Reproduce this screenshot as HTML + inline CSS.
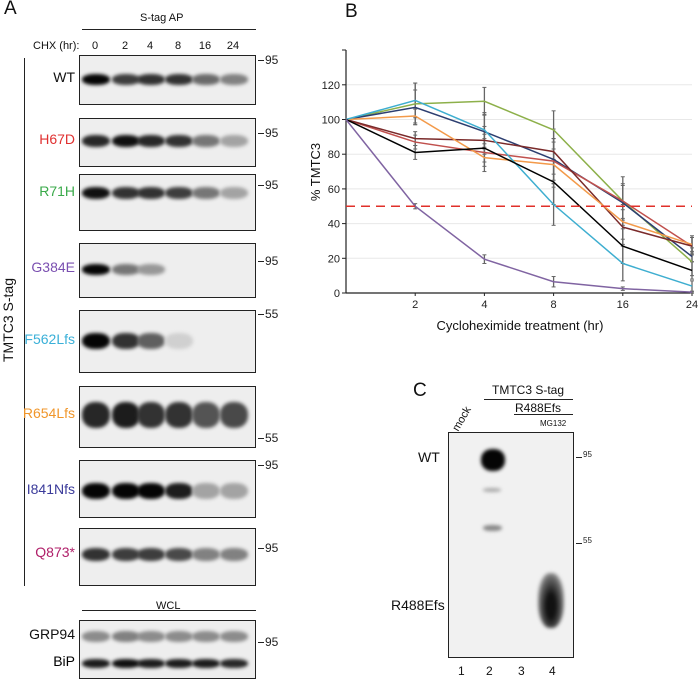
<!DOCTYPE html>
<html><head><meta charset="utf-8">
<style>
body{margin:0;background:#fff;font-family:"Liberation Sans",Arial,sans-serif;}
#root{position:relative;width:700px;height:681px;overflow:hidden;background:#fff;}
.t{position:absolute;white-space:nowrap;color:#111;}
.blot{position:absolute;border:1.5px solid #222;background:#eeeeee;box-sizing:border-box;overflow:hidden;}
.band{position:absolute;border-radius:45%;filter:blur(1.8px);}
.lbl{position:absolute;width:75px;text-align:right;font-size:14px;}
.mk{position:absolute;font-size:12px;color:#222;}
.mk:before{content:"";position:absolute;left:-7px;top:7px;width:6px;border-top:1px solid #222;}
</style></head>
<body><div id="root">
<div class="t" style="left:4px;top:-2px;font-size:19px">A</div>
<div class="t" style="left:140px;top:12px;font-size:11px">S-tag AP</div>
<div style="position:absolute;left:82px;top:29px;width:174px;border-top:1px solid #222"></div>
<div class="t" style="left:33px;top:40px;font-size:11px">CHX (hr):</div>
<div id="lanes"></div>
<div style="position:absolute;left:24px;top:58px;height:528px;border-left:1.5px solid #222"></div>
<div class="t" style="left:-34px;top:312px;font-size:14px;transform:rotate(-90deg)">TMTC3 S-tag</div>
<div id="blots"></div>
<div class="t" style="left:156px;top:600px;font-size:11px">WCL</div>
<div style="position:absolute;left:82px;top:610px;width:174px;border-top:1px solid #222"></div>

<div class="t" style="left:345px;top:1px;font-size:19px">B</div>
<svg id="chart" style="position:absolute;left:0;top:0" width="700" height="681"></svg>

<div class="t" style="left:413px;top:380px;font-size:19px">C</div>
<div class="t" style="left:492px;top:383px;font-size:12px">TMTC3 S-tag</div>
<div style="position:absolute;left:484px;top:399px;width:89px;border-top:1px solid #222"></div>
<div class="t" style="left:515px;top:401px;font-size:12px">R488Efs</div>
<div style="position:absolute;left:514px;top:414px;width:59px;border-top:1px solid #222"></div>
<div class="t" style="left:540px;top:419px;font-size:8px">MG132</div>
<div class="t" style="left:449px;top:413px;font-size:11px;transform:rotate(-60deg)">mock</div>
<div class="blot" style="left:448px;top:432px;width:126px;height:226px;background:#f1f1f1">
 <div class="band" style="left:32px;top:16px;width:24px;height:22px;background:#050505"></div>
 <div class="band" style="left:34px;top:55px;width:18px;height:4px;background:#aaa"></div>
 <div class="band" style="left:34px;top:92px;width:19px;height:6px;background:#888"></div>
 <div class="band" style="left:89px;top:140px;width:26px;height:55px;background:radial-gradient(ellipse at 50% 60%,#111 25%,#666 60%,#ddd 90%)"></div>
</div>
<div class="mk" style="left:583px;top:450px;font-size:8px">95</div>
<div class="mk" style="left:583px;top:536px;font-size:8px">55</div>
<div class="t" style="left:418px;top:449px;font-size:14px">WT</div>
<div class="t" style="left:391px;top:597px;font-size:14px">R488Efs</div>
<div class="t" style="left:458px;top:664px;font-size:12px">1</div>
<div class="t" style="left:486px;top:664px;font-size:12px">2</div>
<div class="t" style="left:518px;top:664px;font-size:12px">3</div>
<div class="t" style="left:549px;top:664px;font-size:12px">4</div>
</div>
<script>
// ---- Panel A blots ----
const laneLabels=["0","2","4","8","16","24"];
const laneX=[95,125,150,178,205,233];
const lanesDiv=document.getElementById('lanes');
laneLabels.forEach((l,i)=>{const d=document.createElement('div');d.className='t';d.style.cssText=`left:${laneX[i]-8}px;top:40px;width:16px;text-align:center;font-size:11px`;d.textContent=l;


lanesDiv.appendChild(d);});
const blots=[
 {n:"WT",c:"#111",top:55,h:50,band:23,dark:[1,.75,.8,.8,.55,.45],mk:"95",mkY:-2,bh:11},
 {n:"H67D",c:"#e03030",top:118,h:49,band:22,dark:[.85,.95,.85,.8,.5,.3],mk:"95",mkY:8,bh:12},
 {n:"R71H",c:"#3aaa4a",top:174,h:57,band:18,dark:[.95,.8,.8,.75,.5,.3],mk:"95",mkY:4,bh:12},
 {n:"G384E",c:"#7a4fb0",top:243,h:55,band:25,dark:[1,.5,.35,0,0,0],mk:"95",mkY:11,bh:11},
 {n:"F562Lfs",c:"#3ab0d8",top:310,h:63,band:30,dark:[1,.8,.6,.1,0,0],mk:"55",mkY:-3,bh:16},
 {n:"R654Lfs",c:"#f0962a",top:386,h:62,band:28,dark:[.85,.9,.8,.8,.65,.7],mk:"55",mkY:45,bh:26},
 {n:"I841Nfs",c:"#3a3a9a",top:460,h:58,band:30,dark:[1,1,1,.9,.3,.3],mk:"95",mkY:-2,bh:16},
 {n:"Q873*",c:"#b0206a",top:528,h:58,band:25,dark:[.8,.75,.75,.7,.45,.45],mk:"95",mkY:13,bh:13},
 {n:"GRP94",c:"#111",top:620,h:59,band:15,dark:[.4,.45,.4,.4,.4,.4],mk:"95",mkY:15,bh:11,second:{n:"BiP",band:42,dark:[.9,.95,.9,.9,.9,.85],bh:9}}
];
const bd=document.getElementById('blots');
blots.forEach(b=>{
 const key=b.n.toLowerCase().replace('*','-stop');
 const box=document.createElement('div');box.className='blot';
 box.style.cssText=`left:79px;top:${b.top}px;width:177px;height:${b.h}px`;
 
 
 const addBands=(arr,y,bh)=>arr.forEach((v,i)=>{if(v<=0)return;const g=Math.round(230-v*225);const e=document.createElement('div');e.className='band';
  e.style.cssText=`left:${laneX[i]-79-14}px;top:${y-bh/2}px;width:28px;height:${bh}px;background:rgb(${g},${g},${g})`;
  
  
  box.appendChild(e);});
 addBands(b.dark,b.band,b.bh);
 if(b.second)addBands(b.second.dark,b.second.band,b.second.bh);
 bd.appendChild(box);
 const l=document.createElement('div');l.className='lbl';l.style.cssText=`left:0;top:${b.top+b.band-9}px;color:${b.c}`;l.textContent=b.n;
 
 
 bd.appendChild(l);
 if(b.second){const l2=document.createElement('div');l2.className='lbl';l2.style.cssText=`left:0;top:${b.top+b.second.band-9}px`;l2.textContent=b.second.n;
 
 
 bd.appendChild(l2);}
 const m=document.createElement('div');m.className='mk';m.style.cssText=`left:265px;top:${b.top+b.mkY}px`;m.textContent=b.mk;
 
 
 bd.appendChild(m);
});

// ---- Panel B chart ----
const categories=["0","2","4","8","16","24"];
const yTicks=[0,20,40,60,80,100,120];
const sWT=[100,81,83.5,64,27,13];
const sG384E=[100,50,19.5,6.5,2.5,0.5];
const sF562Lfs=[100,111,94,51,17,4];
const sR71H=[100,109,110.5,94,53,18];
const sI841Nfs=[100,107,93,77,52,21];
const sR654Lfs=[100,102,78,74,41,28];
const sQ873=[100,89,88,81.5,38,27];
const sH67D=[100,87,81,76,53,27];
const errWT=[0,4,8,13,10,5];
const errG384E=[0,1.5,2.5,3,1,0.5];
const errF562Lfs=[0,10,10,12,10,3];
const errR71H=[0,12,8,11,14,8];
const threshold=50;
const series=[
 {n:"r71h",c:"#8db04a",v:sR71H,e:errR71H},
 {n:"i841nfs",c:"#2c3e70",v:sI841Nfs,e:errF562Lfs},
 {n:"h67d",c:"#c0504d",v:sH67D,e:errWT},
 {n:"q873",c:"#7a2a2a",v:sQ873,e:errWT},
 {n:"r654lfs",c:"#f39a4a",v:sR654Lfs,e:errWT},
 {n:"f562lfs",c:"#3eaed0",v:sF562Lfs,e:errF562Lfs},
 {n:"wt",c:"#000",v:sWT,e:errWT},
 {n:"g384e",c:"#8064a2",v:sG384E,e:errG384E}
];
const X0=346,XSTEP=69.2,Y0=293,YPX=1.735;
const xs=i=>X0+i*XSTEP, ys=v=>Y0-v*YPX;
const svg=document.getElementById('chart');const NS='http://www.w3.org/2000/svg';
function mk(tag,attrs,name){const e=document.createElementNS(NS,tag);for(const k in attrs)e.setAttribute(k,attrs[k]);
 
 
 svg.appendChild(e);return e;}
yTicks.forEach(t=>{if(t>0)mk('line',{x1:X0,x2:xs(5),y1:ys(t),y2:ys(t),stroke:'#e8e8e8','stroke-width':1},'gridline');
 mk('line',{x1:X0-4,x2:X0,y1:ys(t),y2:ys(t),stroke:'#222'},'y-tick');
 const tx=mk('text',{x:X0-6,y:ys(t)+4,'text-anchor':'end','font-size':11,fill:'#222','font-family':'Liberation Sans'},'y-tick-label');tx.textContent=t;});
mk('line',{x1:X0,x2:X0,y1:50,y2:Y0,stroke:'#222','stroke-width':1.2},'y-axis');
mk('line',{x1:X0,x2:xs(5)+2,y1:Y0,y2:Y0,stroke:'#222','stroke-width':1.2},'x-axis');
mk('line',{x1:X0-4,x2:X0,y1:50,y2:50,stroke:'#222'},'y-tick');
categories.forEach((c,i)=>{if(i==0)return;mk('line',{x1:xs(i),x2:xs(i),y1:Y0,y2:Y0+3,stroke:'#222'},'x-tick');
 const tx=mk('text',{x:xs(i),y:Y0+15,'text-anchor':'middle','font-size':11,fill:'#222','font-family':'Liberation Sans'},'x-tick-label');tx.textContent=c;});
series.forEach(s=>{s.v.forEach((v,i)=>{if(!s.e[i])return;const a=ys(v+s.e[i]),b=ys(v-s.e[i]);
 mk('line',{x1:xs(i),x2:xs(i),y1:a,y2:b,stroke:'#666','stroke-width':1.3},'error-bar');
 mk('line',{x1:xs(i)-2,x2:xs(i)+2,y1:a,y2:a,stroke:'#666'},'error-cap');
 mk('line',{x1:xs(i)-2,x2:xs(i)+2,y1:b,y2:b,stroke:'#666'},'error-cap');});});
series.forEach(s=>{mk('polyline',{points:s.v.map((v,i)=>xs(i)+','+ys(v)).join(' '),fill:'none',stroke:s.c,'stroke-width':1.5},'line-'+s.n);});
mk('line',{x1:X0,x2:xs(5),y1:ys(threshold),y2:ys(threshold),stroke:'#e0302a','stroke-width':1.5,'stroke-dasharray':'9,6'},'threshold-line');
const yl=mk('text',{x:0,y:0,transform:'translate(320,172) rotate(-90)','text-anchor':'middle','font-size':13,fill:'#111','font-family':'Liberation Sans'},'y-axis-title');yl.textContent='% TMTC3';
const xl=mk('text',{x:520,y:330,'text-anchor':'middle','font-size':13,fill:'#111','font-family':'Liberation Sans'},'x-axis-title');xl.textContent='Cycloheximide treatment (hr)';
</script>
</body></html>
